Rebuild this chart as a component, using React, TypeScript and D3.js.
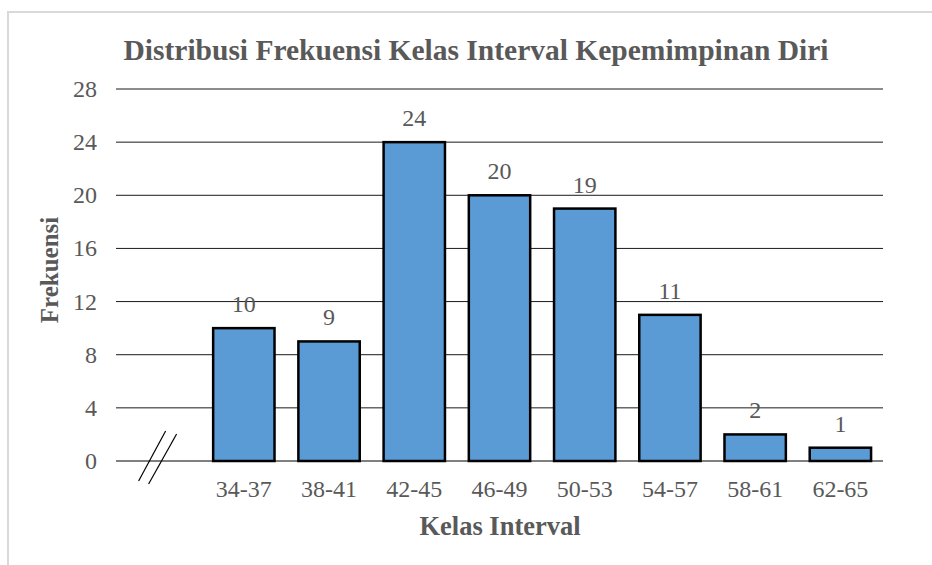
import React from "react";
import * as d3 from "d3";

const categories = ["", "34-37", "38-41", "42-45", "46-49", "50-53", "54-57", "58-61", "62-65"];
const values: (number | null)[] = [null, 10, 9, 24, 20, 19, 11, 2, 1];
const yTicks = [0, 4, 8, 12, 16, 20, 24, 28];
const title = "Distribusi Frekuensi Kelas Interval Kepemimpinan Diri";
const xTitle = "Kelas Interval";
const yTitle = "Frekuensi";

const W = 932, H = 565;
const left = 116, right = 883, top = 89, bottom = 461;
const font = "'Liberation Serif', 'Times New Roman', serif";
const grey = "#595959";

export default function App() {
  const keys = categories.map((c, i) => c || `__${i}`);
  const x = d3.scaleBand<string>().domain(keys).range([left, right]).paddingInner(0.28).paddingOuter(0.14);
  const y = d3.scaleLinear().domain([0, 28]).range([bottom, top]);
  const bw = x.bandwidth();
  const breakX = (x(keys[0]) as number) + bw / 2;
  return (
    <svg width={W} height={H} style={{ position: "absolute", left: 0, top: 0, display: "block" }}>
      <rect x={0} y={0} width={W} height={H} fill="#fff" />
      <rect x={8} y={12} width={W} height={H} fill="#fff" stroke="#d9d9d9" strokeWidth={2} />
      <text x={476} y={60} textAnchor="middle" fontFamily={font} fontWeight="bold" fontSize={29.5} fill={grey}>{title}</text>
      {yTicks.map((t) => (
        <g key={t}>
          <line x1={left} x2={right} y1={y(t)} y2={y(t)} stroke={t === 0 ? "#000" : "#1a1a1a"} strokeWidth={1} />
          <text x={97} y={y(t) + 8} textAnchor="end" fontFamily={font} fontSize={24} fill={grey}>{t}</text>
        </g>
      ))}
      {values.map((v, i) => v == null ? null : (
        <g key={i}>
          <rect x={x(keys[i])} y={y(v)} width={bw} height={y(0) - y(v)} fill="#5b9bd5" stroke="#000" strokeWidth={2.5} />
          <text x={(x(keys[i]) as number) + bw / 2} y={y(v) - 16} textAnchor="middle" fontFamily={font} fontSize={24} fill={grey}>{v}</text>
        </g>
      ))}
      {categories.map((c, i) => c ? (
        <text key={i} x={(x(keys[i]) as number) + bw / 2} y={497} textAnchor="middle" fontFamily={font} fontSize={24} fill={grey}>{c}</text>
      ) : null)}
      <line x1={breakX - 20} y1={481} x2={breakX + 7} y2={431} stroke="#000" strokeWidth={1.2} />
      <line x1={breakX - 10} y1={484} x2={breakX + 18} y2={434} stroke="#000" strokeWidth={1.2} />
      <text x={500} y={535} textAnchor="middle" fontFamily={font} fontWeight="bold" fontSize={26.5} fill={grey}>{xTitle}</text>
      <text transform={`translate(58,270) rotate(-90)`} textAnchor="middle" fontFamily={font} fontWeight="bold" fontSize={25} fill={grey}>{yTitle}</text>
    </svg>
  );
}
